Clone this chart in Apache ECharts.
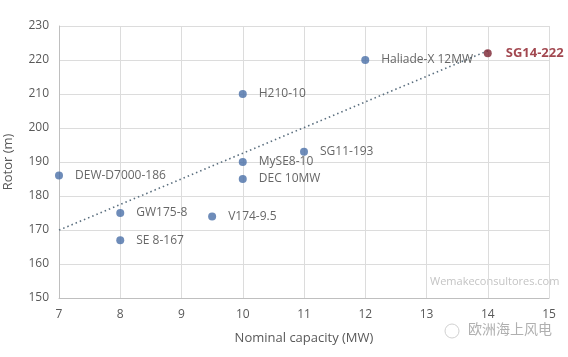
<!DOCTYPE html>
<html><head><meta charset="utf-8">
<script src="https://cdn.jsdelivr.net/npm/echarts@6/dist/echarts.min.js"></script>
<style>html,body{margin:0;padding:0;background:#fff}#c{width:568px;height:357px}</style>
</head><body><div id="c"></div>
<script>
const names = ['DEW-D7000-186','GW175-8','SE 8-167','V174-9.5','H210-10','MySE8-10','DEC 10MW','SG11-193','Haliade-X 12MW','SG14-222'];
const capacity = [7, 8, 8, 9.5, 10, 10, 10, 11, 12, 14];
const rotor = [186, 175, 167, 174, 210, 190, 185, 193, 220, 222];
const highlight = 'SG14-222';

// linear least-squares trendline from the data
const n = capacity.length;
const mx = capacity.reduce((a,b)=>a+b,0)/n, my = rotor.reduce((a,b)=>a+b,0)/n;
let sxy=0,sxx=0;
for(let i=0;i<n;i++){sxy+=(capacity[i]-mx)*(rotor[i]-my);sxx+=(capacity[i]-mx)**2;}
const slope=sxy/sxx, icpt=my-slope*mx;
const xMinData=Math.min(...capacity), xMaxData=Math.max(...capacity);
const trend=[[xMinData,icpt+slope*xMinData],[xMaxData,icpt+slope*xMaxData]];

const font='"Open Sans", "Liberation Sans", sans-serif';
const pts = names.map((nm,i)=>{
  const hi = nm===highlight;
  return {value:[capacity[i],rotor[i]],name:nm,
    itemStyle:{color: hi?'#7a2230':'#4a6fa8'},
    label:hi?{color:'#8b1a24',fontWeight:'bold',fontSize:13,distance:14}:{}};
});
const chart=echarts.init(document.getElementById('c'));
chart.setOption({
  animation:false,
  textStyle:{fontFamily:font},
  grid:{left:59,right:19,top:26,bottom:59,containLabel:false,outerBoundsMode:'none'},
  xAxis:{type:'value',min:7,max:15,interval:1,
    name:'Nominal capacity (MW)',nameLocation:'middle',nameGap:34,
    nameTextStyle:{color:'#595959',fontSize:13,fontFamily:font},
    axisLine:{show:true,lineStyle:{color:'#bfbfbf'}},axisTick:{show:false},
    axisLabel:{color:'#595959',fontSize:12,margin:11},
    splitLine:{show:true,lineStyle:{color:'#dcdcdc'}}},
  yAxis:{type:'value',min:150,max:230,interval:10,
    name:'Rotor (m)',nameLocation:'middle',nameGap:44,
    nameTextStyle:{color:'#595959',fontSize:13,fontFamily:font},
    axisLine:{show:true,lineStyle:{color:'#bfbfbf'}},axisTick:{show:false},
    axisLabel:{color:'#595959',fontSize:12,margin:10},
    splitLine:{show:true,lineStyle:{color:'#dcdcdc'}}},
  series:[
    {type:'line',data:trend,symbol:'none',silent:true,
      lineStyle:{color:'#5a6e7e',width:1.6,type:[1.5,3]},z:1},
    {type:'scatter',data:pts,symbolSize:8,z:3,
      label:{show:true,position:'right',distance:12,formatter:p=>p.name,
        color:'#404040',fontSize:12,fontFamily:font}}
  ],
  graphic:[
    {type:'text',left:430,top:276,style:{text:'Wemakeconsultores.com',fill:'#c4c4c4',font:'11px '+font}},
    {type:'text',left:468,top:322,style:{text:'欧洲海上风电',fill:'#b0b0b0',font:'14px "Noto Sans CJK SC"'}},
    {type:'circle',shape:{cx:452,cy:331,r:7},style:{fill:'none',stroke:'#d0d0d0',lineWidth:1}}
  ]
});
</script></body></html>
